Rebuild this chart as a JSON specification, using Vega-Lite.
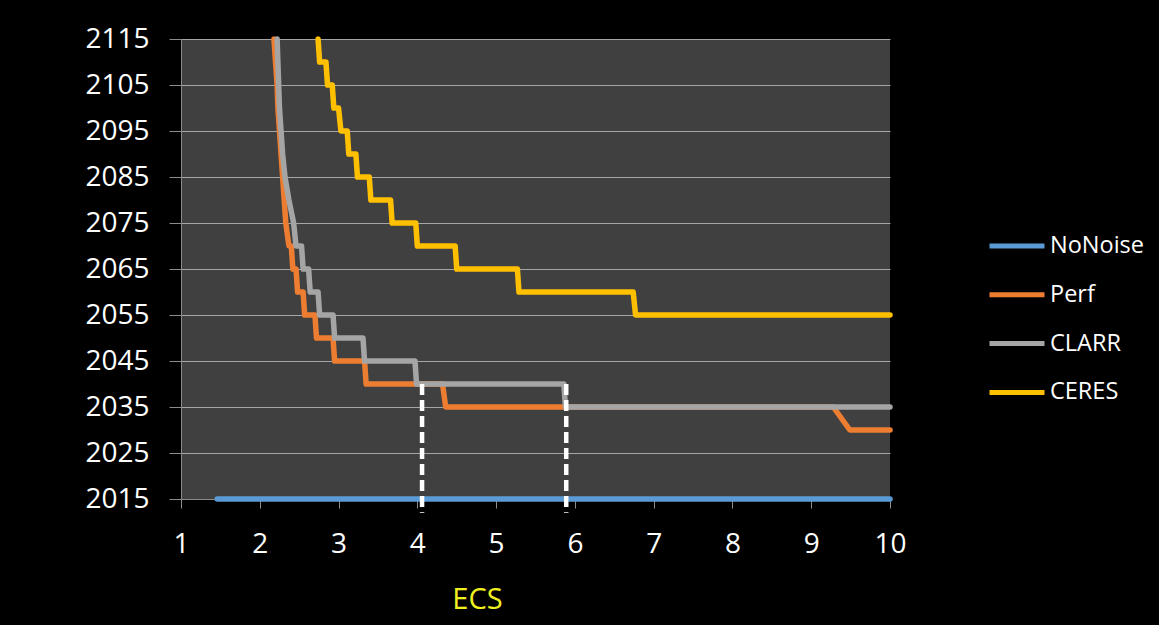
{
  "$schema": "https://vega.github.io/schema/vega-lite/v6.json",
  "width": 709,
  "height": 460,
  "autosize": {"type": "none"},
  "padding": {"left": 181, "top": 39, "right": 269, "bottom": 126},
  "background": "#000000",
  "config": {
    "view": {"fill": "#404040", "stroke": null},
    "font": "Open Sans"
  },
  "datasets": {
    "curves": [
      {"series": "NoNoise", "ecs": 1.46, "year": 2015},
      {"series": "NoNoise", "ecs": 10, "year": 2015},

      {"series": "Perf", "ecs": 2.18, "year": 2115},
      {"series": "Perf", "ecs": 2.20, "year": 2110},
      {"series": "Perf", "ecs": 2.22, "year": 2105},
      {"series": "Perf", "ecs": 2.23, "year": 2100},
      {"series": "Perf", "ecs": 2.25, "year": 2095},
      {"series": "Perf", "ecs": 2.27, "year": 2090},
      {"series": "Perf", "ecs": 2.29, "year": 2085},
      {"series": "Perf", "ecs": 2.31, "year": 2080},
      {"series": "Perf", "ecs": 2.33, "year": 2075},
      {"series": "Perf", "ecs": 2.37, "year": 2070},
      {"series": "Perf", "ecs": 2.40, "year": 2070},
      {"series": "Perf", "ecs": 2.42, "year": 2065},
      {"series": "Perf", "ecs": 2.46, "year": 2065},
      {"series": "Perf", "ecs": 2.48, "year": 2060},
      {"series": "Perf", "ecs": 2.55, "year": 2060},
      {"series": "Perf", "ecs": 2.57, "year": 2055},
      {"series": "Perf", "ecs": 2.70, "year": 2055},
      {"series": "Perf", "ecs": 2.72, "year": 2050},
      {"series": "Perf", "ecs": 2.93, "year": 2050},
      {"series": "Perf", "ecs": 2.95, "year": 2045},
      {"series": "Perf", "ecs": 3.33, "year": 2045},
      {"series": "Perf", "ecs": 3.35, "year": 2040},
      {"series": "Perf", "ecs": 4.32, "year": 2040},
      {"series": "Perf", "ecs": 4.36, "year": 2035},
      {"series": "Perf", "ecs": 9.28, "year": 2035},
      {"series": "Perf", "ecs": 9.49, "year": 2030},
      {"series": "Perf", "ecs": 10, "year": 2030},

      {"series": "CLARR", "ecs": 2.22, "year": 2115},
      {"series": "CLARR", "ecs": 2.23, "year": 2110},
      {"series": "CLARR", "ecs": 2.24, "year": 2105},
      {"series": "CLARR", "ecs": 2.25, "year": 2100},
      {"series": "CLARR", "ecs": 2.27, "year": 2095},
      {"series": "CLARR", "ecs": 2.29, "year": 2090},
      {"series": "CLARR", "ecs": 2.32, "year": 2085},
      {"series": "CLARR", "ecs": 2.37, "year": 2080},
      {"series": "CLARR", "ecs": 2.43, "year": 2075},
      {"series": "CLARR", "ecs": 2.46, "year": 2070},
      {"series": "CLARR", "ecs": 2.53, "year": 2070},
      {"series": "CLARR", "ecs": 2.55, "year": 2065},
      {"series": "CLARR", "ecs": 2.62, "year": 2065},
      {"series": "CLARR", "ecs": 2.64, "year": 2060},
      {"series": "CLARR", "ecs": 2.74, "year": 2060},
      {"series": "CLARR", "ecs": 2.76, "year": 2055},
      {"series": "CLARR", "ecs": 2.93, "year": 2055},
      {"series": "CLARR", "ecs": 2.95, "year": 2050},
      {"series": "CLARR", "ecs": 3.31, "year": 2050},
      {"series": "CLARR", "ecs": 3.33, "year": 2045},
      {"series": "CLARR", "ecs": 3.97, "year": 2045},
      {"series": "CLARR", "ecs": 3.99, "year": 2040},
      {"series": "CLARR", "ecs": 5.86, "year": 2040},
      {"series": "CLARR", "ecs": 5.88, "year": 2035},
      {"series": "CLARR", "ecs": 10, "year": 2035},

      {"series": "CERES", "ecs": 2.74, "year": 2115},
      {"series": "CERES", "ecs": 2.76, "year": 2110},
      {"series": "CERES", "ecs": 2.84, "year": 2110},
      {"series": "CERES", "ecs": 2.86, "year": 2105},
      {"series": "CERES", "ecs": 2.92, "year": 2105},
      {"series": "CERES", "ecs": 2.94, "year": 2100},
      {"series": "CERES", "ecs": 3.00, "year": 2100},
      {"series": "CERES", "ecs": 3.03, "year": 2095},
      {"series": "CERES", "ecs": 3.11, "year": 2095},
      {"series": "CERES", "ecs": 3.13, "year": 2090},
      {"series": "CERES", "ecs": 3.22, "year": 2090},
      {"series": "CERES", "ecs": 3.24, "year": 2085},
      {"series": "CERES", "ecs": 3.39, "year": 2085},
      {"series": "CERES", "ecs": 3.41, "year": 2080},
      {"series": "CERES", "ecs": 3.66, "year": 2080},
      {"series": "CERES", "ecs": 3.68, "year": 2075},
      {"series": "CERES", "ecs": 3.98, "year": 2075},
      {"series": "CERES", "ecs": 4.00, "year": 2070},
      {"series": "CERES", "ecs": 4.48, "year": 2070},
      {"series": "CERES", "ecs": 4.50, "year": 2065},
      {"series": "CERES", "ecs": 5.27, "year": 2065},
      {"series": "CERES", "ecs": 5.29, "year": 2060},
      {"series": "CERES", "ecs": 6.74, "year": 2060},
      {"series": "CERES", "ecs": 6.77, "year": 2055},
      {"series": "CERES", "ecs": 10, "year": 2055}
    ],
    "markers": [
      {"ecs": 4.06, "top": 2040, "bottom": 2012},
      {"ecs": 5.89, "top": 2040, "bottom": 2012}
    ]
  },
  "layer": [
    {
      "data": {"name": "curves"},
      "mark": {"type": "line", "strokeWidth": 5.5, "strokeCap": "round", "strokeJoin": "round", "clip": false},
      "encoding": {
        "x": {
          "field": "ecs", "type": "quantitative",
          "scale": {"domain": [1, 10], "nice": false, "zero": false},
          "axis": {
            "values": [1, 2, 3, 4, 5, 6, 7, 8, 9, 10],
            "format": "d",
            "labelFlush": false,
            "grid": false,
            "zindex": 0,
            "domainColor": "#8C8C8C",
            "domainWidth": 1,
            "tickColor": "#8C8C8C",
            "tickSize": 9,
            "labelColor": "#FFFFFF",
            "labelFontSize": 28,
            "labelPadding": 22,
            "title": "ECS",
            "titleColor": "#F0F020",
            "titleFontSize": 29,
            "titleFontWeight": "normal",
            "titleX": 296,
            "titleY": 109,
            "titleAlign": "center",
            "titleBaseline": "alphabetic"
          }
        },
        "y": {
          "field": "year", "type": "quantitative",
          "scale": {"domain": [2015, 2115], "nice": false, "zero": false},
          "axis": {
            "values": [2015, 2025, 2035, 2045, 2055, 2065, 2075, 2085, 2095, 2105, 2115],
            "format": "d",
            "labelFlush": false,
            "grid": true,
            "gridColor": "#A6A6A6",
            "gridWidth": 1,
            "zindex": 0,
            "domainColor": "#8C8C8C",
            "tickColor": "#8C8C8C",
            "tickSize": 12,
            "labelColor": "#FFFFFF",
            "labelFontSize": 28,
            "labelPadding": 20,
            "title": null
          }
        },
        "color": {
          "field": "series", "type": "nominal",
          "scale": {
            "domain": ["NoNoise", "Perf", "CLARR", "CERES"],
            "range": ["#5B9BD5", "#ED7D31", "#A5A5A5", "#FFC000"]
          },
          "legend": {
            "orient": "none",
            "legendX": 806,
            "legendY": 177,
            "title": null,
            "padding": 0,
            "symbolType": "stroke",
            "symbolSize": 3025,
            "symbolStrokeWidth": 5,
            "labelColor": "#FFFFFF",
            "labelFontSize": 23.5,
            "labelOffset": 3,
            "rowPadding": 6.8
          }
        }
      }
    },
    {
      "data": {"name": "markers"},
      "mark": {"type": "rule", "color": "#FFFFFF", "strokeWidth": 4.5, "strokeDash": [11, 5], "clip": false},
      "encoding": {
        "x": {"field": "ecs", "type": "quantitative"},
        "y": {"field": "top", "type": "quantitative"},
        "y2": {"field": "bottom"}
      }
    }
  ]
}
